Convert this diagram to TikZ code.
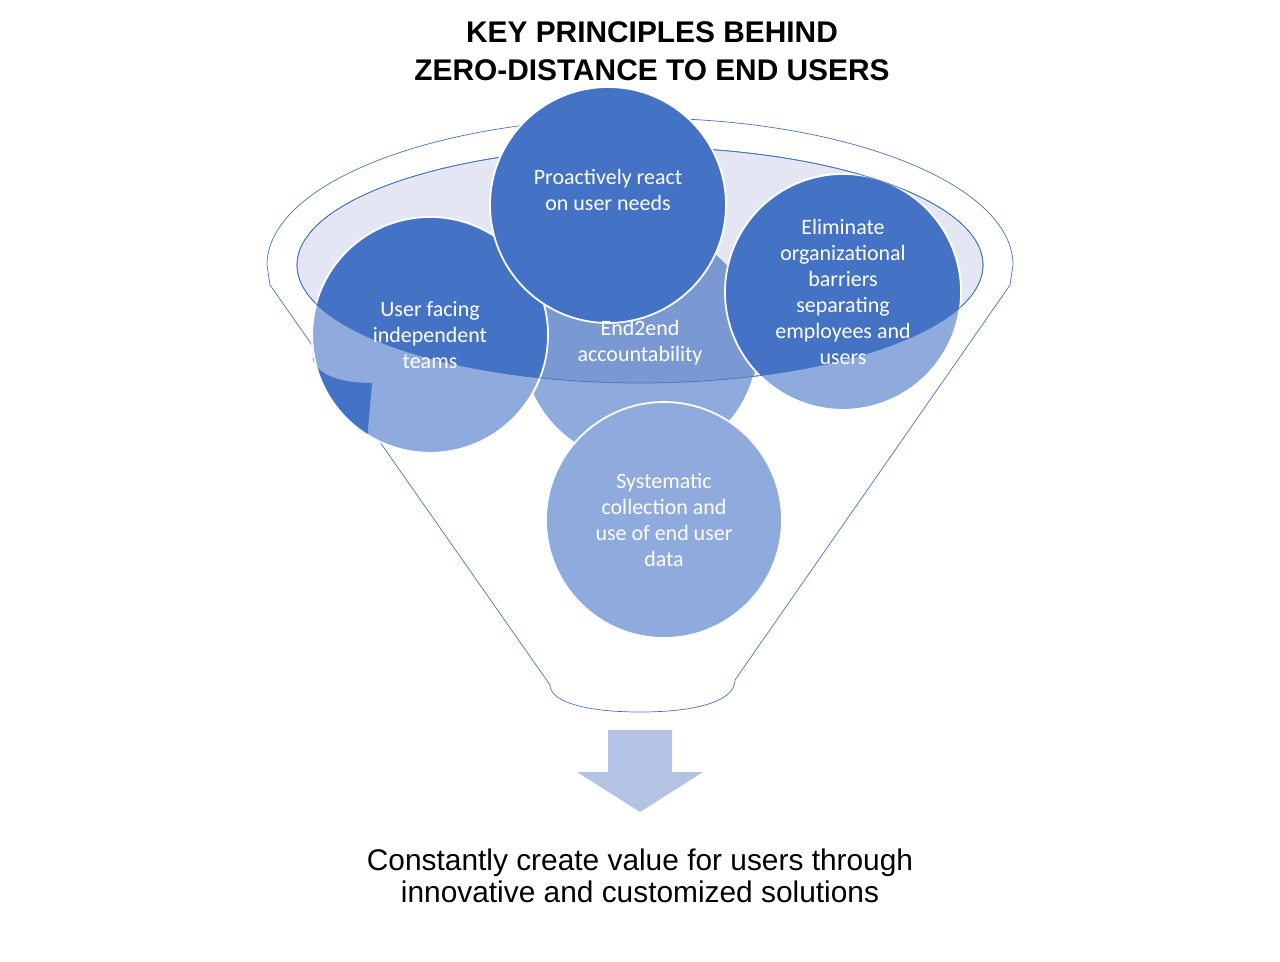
\documentclass[tikz,border=0pt]{standalone}
\usepackage{fontspec}
\setmainfont{Liberation Sans}
\newfontfamily\circfont{Carlito}
\definecolor{darkblue}{HTML}{4472C4}
\definecolor{midblue}{HTML}{7A98D2}
\definecolor{lightblue}{HTML}{8FAADC}
\definecolor{paleblue}{HTML}{E4E7F3}
\definecolor{arrowblue}{HTML}{B4C3E3}
\tikzset{
  principle/.style={circle, minimum size=4.72cm, draw=white, line width=1pt, fill=lightblue},
  ptext/.style={text=white, align=center, font=\circfont\fontsize{12.5}{14.7}\selectfont},
}
\begin{document}
\begin{tikzpicture}[x=0.02cm,y=-0.02cm]
        \useasboundingbox (0,0) rectangle (1280,962);

        \node[font=\bfseries\fontsize{17}{21.5}\selectfont, align=center] (title) at (652,51) {KEY PRINCIPLES BEHIND\\ZERO-DISTANCE TO END USERS};

        % funnel
        \draw[darkblue, thin] (270,285) -- (267,265) arc[start angle=180, end angle=0, x radius=373, y radius=-147] -- (1010,285) -- (735,680) .. controls (735,700) and (700,712) .. (640,712) .. controls (580,712) and (550,700) .. (550,685) -- cycle;
        \draw[darkblue, thin, fill=paleblue] (640,265) ellipse[x radius=343, y radius=-118];

        % circles
        \node[principle] (e2e) at (640,345) {};
        \node[principle] (ufit) at (430,335) {};
        \node[principle] (elim) at (843,292) {};
        \begin{scope}
          \clip (640,265) ellipse[x radius=343, y radius=-118];
          \fill[midblue] (e2e.center) circle[radius=118];
          \fill[darkblue] (ufit.center) circle[radius=118];
          \fill[darkblue] (elim.center) circle[radius=118];
        \end{scope}
        \fill[darkblue] (ufit.center) ++(-118,0) arc[start angle=180, end angle=122, radius=118] -- (372,383) .. controls (340,383) and (318,375) .. (313,360) -- cycle;
        \draw[white, line width=1pt] (ufit) circle[radius=118];
        \draw[white, line width=1pt] (elim) circle[radius=118];
        \draw[darkblue, thin] (640,265) ellipse[x radius=343, y radius=-118];
        \node[principle, fill=darkblue] (proact) at (608,205) {};
        \node[principle] (syst) at (664,520) {};

        \node[ptext] at (e2e.center) [yshift=0.05cm] {End2end\\accountability};
        \node[ptext] at (ufit.center) {User facing\\independent\\teams};
        \node[ptext] at (elim.center) {Eliminate\\organizational\\barriers\\separating\\employees and\\users};
        \node[ptext] at (proact.center) [yshift=0.3cm] {Proactively react\\on user needs};
        \node[ptext] at (syst.center) {Systematic\\collection and\\use of end user\\data};

        % arrow
        \fill[arrowblue] (608,730) -- (672,730) -- (672,772) -- (703,772) -- (640,812) -- (577,772) -- (608,772) -- cycle;
        \coordinate (tip) at (640,812);

        \node[font=\fontsize{17}{18.5}\selectfont, align=center] (result) at (640,876) {Constantly create value for users through\\innovative and customized solutions};
    \end{tikzpicture}
\end{document}
